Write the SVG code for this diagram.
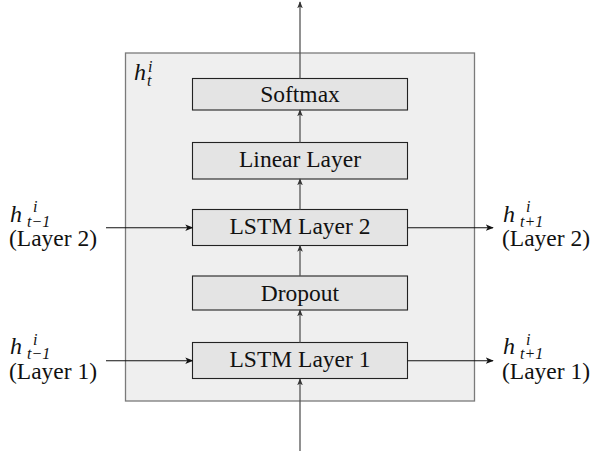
<svg xmlns="http://www.w3.org/2000/svg" width="590" height="451" viewBox="0 0 590 451">
<style>
.outer{fill:#efefef;stroke:#7a7a7a;stroke-width:1.3}
.box{fill:#e4e4e4;stroke:#222;stroke-width:1.1}
.t{font-family:"Liberation Serif","Times New Roman",serif;font-size:23.5px;fill:#111}
.m{font-family:"Liberation Serif","Times New Roman",serif;font-style:italic;fill:#111;font-size:24px}
.s{font-size:16px}
.v{stroke:#555;stroke-width:1.3;fill:none}
.h{stroke:#111;stroke-width:1.1;fill:none}
</style>
<defs>
<marker id="ag" viewBox="0 0 10 10" refX="9" refY="5" markerWidth="7" markerHeight="7" markerUnits="userSpaceOnUse" orient="auto"><path d="M0,1 L10,5 L0,9 L2.5,5 Z" fill="#333"/></marker>
<marker id="ab" viewBox="0 0 10 10" refX="9" refY="5" markerWidth="8" markerHeight="8" markerUnits="userSpaceOnUse" orient="auto"><path d="M0,1 L10,5 L0,9 L2.5,5 Z" fill="#111"/></marker>
</defs>
<g id="cell">
<rect class="outer" x="125.5" y="53" width="349" height="348"/>
<text class="m" x="134" y="80">h<tspan class="s" x="148" y="72">i</tspan><tspan class="s" x="147" y="86">t</tspan></text>
</g>
<g id="softmax"><rect class="box" x="192.5" y="78.5" width="215" height="31.5"/><text class="t" x="300" y="102" text-anchor="middle">Softmax</text></g>
<g id="linear"><rect class="box" x="192.5" y="142.5" width="215" height="36.5"/><text class="t" x="300" y="167" text-anchor="middle">Linear Layer</text></g>
<g id="lstm2"><rect class="box" x="192.5" y="209.5" width="215" height="36"/><text class="t" x="300" y="234" text-anchor="middle">LSTM Layer 2</text></g>
<g id="dropout"><rect class="box" x="192.5" y="276" width="215" height="34"/><text class="t" x="300" y="301" text-anchor="middle">Dropout</text></g>
<g id="lstm1"><rect class="box" x="192.5" y="342.5" width="215" height="36"/><text class="t" x="300" y="367" text-anchor="middle">LSTM Layer 1</text></g>
<g id="in2"><text class="m" x="10" y="221.5">h<tspan class="s" x="33" y="212">i</tspan><tspan class="s" x="27" y="226.5">t−1</tspan></text><text class="t" x="9" y="245.5">(Layer 2)</text></g>
<g id="out2"><text class="m" x="503" y="221.5">h<tspan class="s" x="526" y="212">i</tspan><tspan class="s" x="520" y="226.5">t+1</tspan></text><text class="t" x="502" y="245.5">(Layer 2)</text></g>
<g id="in1"><text class="m" x="10" y="354">h<tspan class="s" x="33" y="344.5">i</tspan><tspan class="s" x="27" y="359">t−1</tspan></text><text class="t" x="9" y="378.5">(Layer 1)</text></g>
<g id="out1"><text class="m" x="503" y="354">h<tspan class="s" x="526" y="344.5">i</tspan><tspan class="s" x="520" y="359">t+1</tspan></text><text class="t" x="502" y="378.5">(Layer 1)</text></g>
<g id="connectors">
<line class="v" x1="300" y1="451" x2="300" y2="379" marker-end="url(#ag)"/>
<line class="v" x1="300" y1="342.5" x2="300" y2="310" marker-end="url(#ag)"/>
<line class="v" x1="300" y1="276" x2="300" y2="245.5" marker-end="url(#ag)"/>
<line class="v" x1="300" y1="209.5" x2="300" y2="179" marker-end="url(#ag)"/>
<line class="v" x1="300" y1="142.5" x2="300" y2="110" marker-end="url(#ag)"/>
<line class="v" x1="300" y1="78.5" x2="300" y2="2" marker-end="url(#ag)"/>
<line class="h" x1="106" y1="227.7" x2="192.5" y2="227.7" marker-end="url(#ab)"/>
<line class="h" x1="407.5" y1="227.7" x2="493" y2="227.7" marker-end="url(#ab)"/>
<line class="h" x1="106" y1="360.7" x2="192.5" y2="360.7" marker-end="url(#ab)"/>
<line class="h" x1="407.5" y1="360.7" x2="493" y2="360.7" marker-end="url(#ab)"/>
</g>
</svg>
